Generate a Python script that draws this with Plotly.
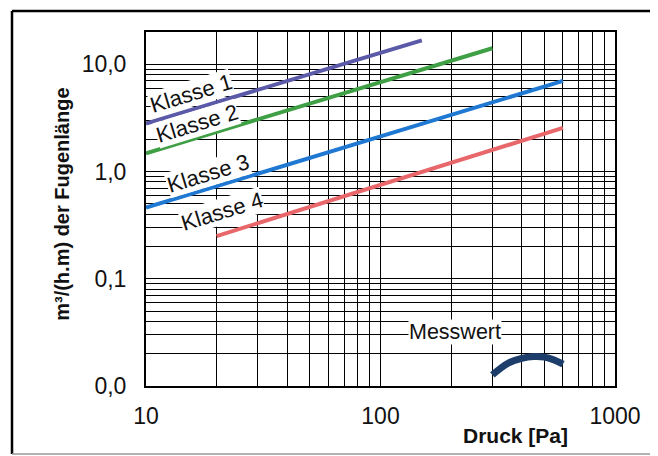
import plotly.graph_objects as go

# ---- data ----
klasse_names = ["Klasse 1", "Klasse 2", "Klasse 3", "Klasse 4"]
klasse_pressure = [[10, 150], [10, 300], [10, 600], [20, 600]]
klasse_flow = [[2.8, 16.7], [1.48, 14.1], [0.46, 7.0], [0.25, 2.55]]
klasse_colors = ["#5b5aa8", "#3f9f45", "#1f78d2", "#e8676a"]

mess_pressure = [300, 350, 400, 450, 500, 550, 600]
mess_flow = [0.0127, 0.0163, 0.0181, 0.0188, 0.0186, 0.0175, 0.0160]

x_major = [10, 100, 1000]
x_major_text = ["10", "100", "1000"]
y_major = [0.01, 0.1, 1, 10]
y_major_text = ["0,0", "0,1", "1,0", "10,0"]

# grid positions (log decades, 1..9 per decade)
x_grid = [m * d for d in (10, 100) for m in range(1, 10)] + [1000]
y_grid = [round(m * d, 4) for d in (0.01, 0.1, 1) for m in range(1, 10)] + [10, 20]

def labels(vals, major, text):
    out = []
    for v in vals:
        hit = [t for mv, t in zip(major, text) if abs(v - mv) < 1e-9]
        out.append(hit[0] if hit else "")
    return out

FONT = "Liberation Sans, Arial, sans-serif"

fig = go.Figure()
for name, px, fy, col in zip(klasse_names, klasse_pressure, klasse_flow, klasse_colors):
    fig.add_trace(go.Scatter(x=px, y=fy, mode="lines", name=name,
                             line=dict(color=col, width=4), showlegend=False))
fig.add_trace(go.Scatter(x=mess_pressure, y=mess_flow, mode="lines", name="Messwert",
                         line=dict(color="#1d3d6b", width=7, shape="spline"),
                         showlegend=False))

fig.update_xaxes(type="log", range=[1, 3],
                 tickvals=x_grid, ticktext=labels(x_grid, x_major, x_major_text),
                 showgrid=True, gridcolor="black", gridwidth=1.3,
                 showline=True, linecolor="black", linewidth=2, mirror=True,
                 ticks="", ticklabelstandoff=8,
                 tickfont=dict(family=FONT, size=23, color="#111"), zeroline=False)
fig.update_yaxes(type="log", range=[-2, 1.301],
                 tickvals=y_grid, ticktext=labels(y_grid, y_major, y_major_text),
                 showgrid=True, gridcolor="black", gridwidth=1.3,
                 showline=True, linecolor="black", linewidth=2, mirror=True,
                 ticks="", ticklabelstandoff=13,
                 tickfont=dict(family=FONT, size=23, color="#111"), zeroline=False)

ann_font = dict(family=FONT, size=22, color="#111")
label_pos = [(0.096, 0.826), (0.109, 0.742), (0.132, 0.600), (0.162, 0.492)]
annotations = []
for name, (ax_, ay_) in zip(klasse_names, label_pos):
    annotations.append(dict(text=name, x=ax_, y=ay_, xref="paper", yref="paper",
                            xanchor="center", yanchor="middle",
                            showarrow=False, textangle=-17, font=ann_font,
                            bgcolor="white", borderpad=0))
annotations.append(dict(text="Messwert", x=0.659, y=0.153, xref="paper", yref="paper",
                        xanchor="center", yanchor="middle",
                        showarrow=False, font=dict(family=FONT, size=21.5, color="#111"),
                        bgcolor="white", borderpad=0))
annotations.append(dict(text="<b>Druck [Pa]</b>", x=0.787, y=-0.141, xref="paper",
                        yref="paper", showarrow=False, xanchor="center", yanchor="middle",
                        font=dict(family=FONT, size=21, color="#111")))
annotations.append(dict(text="<b>m³/(h.m) der Fugenlänge</b>", x=-0.179, y=0.512,
                        xref="paper", yref="paper", showarrow=False, textangle=-90,
                        xanchor="center", yanchor="middle",
                        font=dict(family=FONT, size=20, color="#111")))

shapes = [
    dict(type="line", xref="paper", yref="paper", x0=-0.2857, x1=-0.2857, y0=-0.192, y1=1.059,
         line=dict(color="black", width=2.5)),
    dict(type="line", xref="paper", yref="paper", x0=-0.2857, x1=1.1, y0=1.059, y1=1.059,
         line=dict(color="black", width=2.5)),
    dict(type="line", xref="paper", yref="paper", x0=-0.2857, x1=1.1, y0=-0.192, y1=-0.192,
         line=dict(color="#999", width=1.5)),
]

# page body has an 8px default margin, so the figure is 8px smaller on each side
fig.update_layout(width=650, height=448,
                  margin=dict(l=138, r=43, t=24, b=70),
                  paper_bgcolor="white", plot_bgcolor="white",
                  annotations=annotations, shapes=shapes)

fig.write_html("out.html")
